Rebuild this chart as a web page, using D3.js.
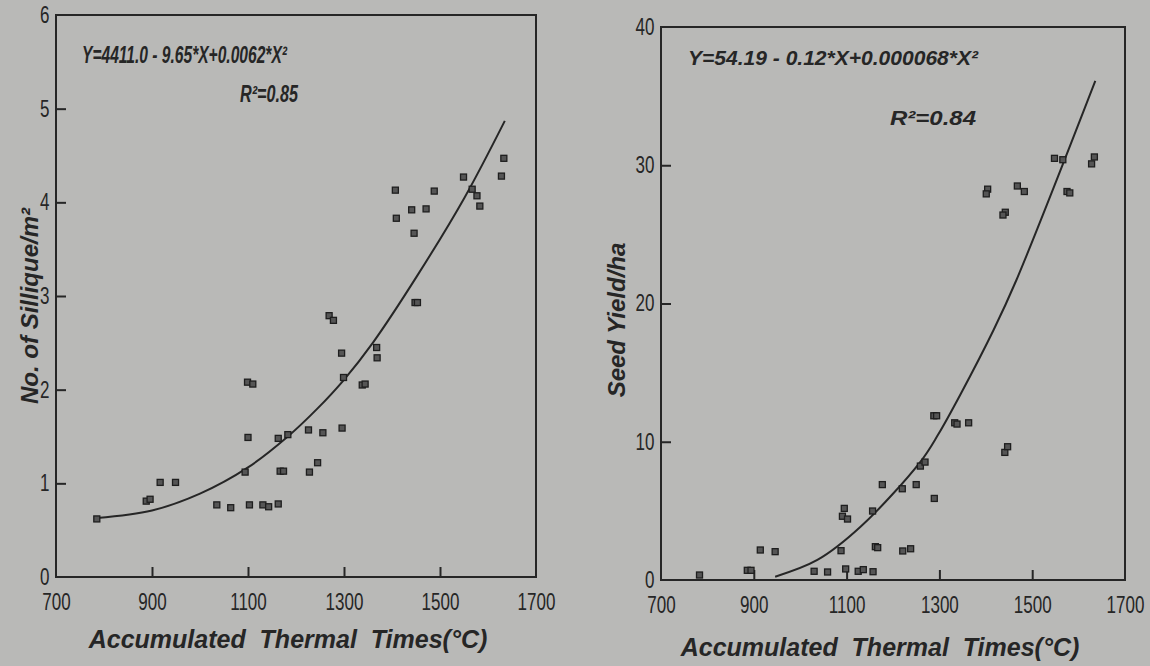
<!DOCTYPE html>
<html>
<head>
<meta charset="utf-8">
<script src="https://cdn.jsdelivr.net/npm/d3@7"></script>
<style>
  body { margin: 0; background: #b9b9b7; }
  svg { display: block; }
</style>
</head>
<body>
<div id="area"></div>
<script>
// thermal time (°C) vs siliques per m² (thousands)
const siliqueX = [785, 888, 896, 917, 949, 1035, 1064, 1094, 1100, 1099, 1110, 1103, 1131, 1143, 1163,
    1163, 1183, 1167, 1174, 1226, 1256, 1228, 1245, 1296, 1299, 1295, 1269, 1278, 1338, 1344,
    1368, 1369, 1448, 1453, 1407, 1409, 1441, 1446, 1471, 1488, 1549, 1567, 1577, 1583, 1628, 1633]
const siliqueY = [0.62, 0.81, 0.83, 1.01, 1.01, 0.77, 0.74, 1.12, 1.49, 2.08, 2.06, 0.77, 0.77, 0.75, 0.78,
    1.48, 1.52, 1.13, 1.13, 1.57, 1.54, 1.12, 1.22, 1.59, 2.13, 2.39, 2.79, 2.74, 2.05, 2.06,
    2.45, 2.34, 2.93, 2.93, 4.13, 3.83, 3.92, 3.67, 3.93, 4.12, 4.27, 4.14, 4.07, 3.96, 4.28, 4.47]
const siliqueFitX = [785, 900, 1000, 1100, 1183, 1245, 1299, 1360, 1453, 1551, 1635]
const siliqueFitY = [0.63, 0.71, 0.89, 1.17, 1.50, 1.80, 2.10, 2.50, 3.22, 4.05, 4.87]

// thermal time (°C) vs seed yield
const yieldX = [783, 886, 894, 914, 946, 1030, 1059, 1088, 1095, 1091, 1102, 1098, 1125, 1136, 1157,
    1162, 1167, 1156, 1177, 1220, 1221, 1238, 1250, 1259, 1269, 1289, 1288, 1294, 1333, 1338,
    1363, 1441, 1447, 1404, 1401, 1468, 1483, 1442, 1437, 1548, 1566, 1575, 1581, 1634, 1628]
const yieldY = [0.36, 0.70, 0.70, 2.17, 2.05, 0.63, 0.58, 2.12, 5.18, 4.61, 4.41, 0.80, 0.63, 0.75, 0.60,
    2.41, 2.34, 4.99, 6.90, 6.60, 2.10, 2.26, 6.90, 8.24, 8.53, 5.90, 11.88, 11.88, 11.37, 11.28,
    11.37, 9.23, 9.64, 28.27, 27.93, 28.50, 28.10, 26.60, 26.40, 30.50, 30.40, 28.10, 28.00, 30.60, 30.10]
const yieldFitX = [946, 1037, 1130, 1259, 1297, 1345, 1417, 1466, 1636]
const yieldFitY = [0.24, 1.45, 3.85, 8.55, 10.5, 13.4, 18.1, 21.7, 36.1]

const xTicks = [700, 900, 1100, 1300, 1500, 1700]
const siliqueTicks = [0, 1, 2, 3, 4, 5, 6]
const yieldTicks = [0, 10, 20, 30, 40]

const ink = "#262626"
const sans = "'Liberation Sans', Arial, sans-serif"

const svg = d3.select("#area").append("svg")
    .attr("width", 1150)
    .attr("height", 666)

function panel({xs, ys, fx, fy, yDomain, yTicks, xRange, yRange, titleX, titleY, yTitle, yTitleX, yTitleY, notes}) {
    const x = d3.scaleLinear().domain([700, 1700]).range(xRange)
    const y = d3.scaleLinear().domain(yDomain).range(yRange)
    const g = svg.append("g")

    g.append("rect")
        .attr("x", x(700)).attr("y", y(yDomain[1]))
        .attr("width", x(1700) - x(700)).attr("height", y(0) - y(yDomain[1]))
        .attr("fill", "none").attr("stroke", ink).attr("stroke-width", 2)

    const yAxis = g.append("g")
        .attr("transform", `translate(${x(700)},0)`)
        .call(d3.axisLeft(y).tickValues(yTicks).tickFormat(d3.format("d"))
            .tickSizeInner(-10).tickSizeOuter(0).tickPadding(9))
    const xAxis = g.append("g")
        .attr("transform", `translate(0,${y(0)})`)
        .call(d3.axisBottom(x).tickValues(xTicks).tickFormat(d3.format("d"))
            .tickSizeInner(-10).tickSizeOuter(0).tickPadding(13))

    for (const ax of [xAxis, yAxis]) {
        ax.select(".domain").remove()
        ax.selectAll(".tick line").attr("stroke", ink).attr("stroke-width", 2)
            .filter((d, i, n) => i === 0 || i === n.length - 1).remove()
        // narrow figures like the scanned original
        ax.selectAll(".tick text")
            .attr("fill", ink).attr("font-family", sans).attr("font-size", 23)
            .attr("transform", "scale(0.74,1)")
    }
    xAxis.selectAll(".tick text").attr("dy", "0.85em")

    g.append("path")
        .datum(fx.map((v, i) => [v, fy[i]]))
        .attr("fill", "none").attr("stroke", ink).attr("stroke-width", 2)
        .attr("d", d3.line().x(d => x(d[0])).y(d => y(d[1])).curve(d3.curveCatmullRom))

    g.append("g").selectAll("rect")
        .data(xs.map((v, i) => [v, ys[i]]))
        .join("rect")
        .attr("x", d => x(d[0]) - 3).attr("y", d => y(d[1]) - 3)
        .attr("width", 6).attr("height", 6)
        .attr("fill", "#555").attr("stroke", "#1e1e1e").attr("stroke-width", 1.3)

    g.append("text")
        .attr("x", titleX).attr("y", titleY)
        .attr("text-anchor", "middle")
        .attr("font-family", sans).attr("font-weight", "bold").attr("font-style", "italic")
        .attr("font-size", 25).attr("word-spacing", 7).attr("fill", ink)
        .text("Accumulated Thermal Times(°C)")

    g.append("text")
        .attr("transform", `translate(${yTitleX},${yTitleY}) rotate(-90)`)
        .attr("text-anchor", "middle")
        .attr("font-family", sans).attr("font-weight", "bold").attr("font-style", "italic")
        .attr("font-size", 24).attr("fill", ink)
        .text(yTitle)

    notes.forEach(n => {
        const t = g.append("text")
            .attr("x", n.x).attr("y", n.y)
            .attr("font-family", sans).attr("font-weight", "bold").attr("font-style", "italic")
            .attr("font-size", n.size).attr("fill", ink)
            .text(n.text)
        if (n.width) t.attr("textLength", n.width).attr("lengthAdjust", "spacingAndGlyphs")
    })
}

panel({
    xs: siliqueX, ys: siliqueY, fx: siliqueFitX, fy: siliqueFitY,
    yDomain: [0, 6], yTicks: siliqueTicks,
    xRange: [56, 536], yRange: [577, 15],
    titleX: 288, titleY: 648,
    yTitle: "No. of Sillique/m²", yTitleX: 38, yTitleY: 306,
    notes: [
        {x: 82, y: 63, size: 24, width: 205, text: "Y=4411.0 - 9.65*X+0.0062*X²"},
        {x: 240, y: 102, size: 23, width: 58, text: "R²=0.85"}
    ]
})

panel({
    xs: yieldX, ys: yieldY, fx: yieldFitX, fy: yieldFitY,
    yDomain: [0, 40], yTicks: yieldTicks,
    xRange: [661, 1125], yRange: [580, 27],
    titleX: 880, titleY: 656,
    yTitle: "Seed Yield/ha", yTitleX: 625, yTitleY: 320,
    notes: [
        {x: 688, y: 65, size: 20, width: 290, text: "Y=54.19 - 0.12*X+0.000068*X²"},
        {x: 890, y: 125, size: 21, width: 86, text: "R²=0.84"}
    ]
})
</script>
</body>
</html>
